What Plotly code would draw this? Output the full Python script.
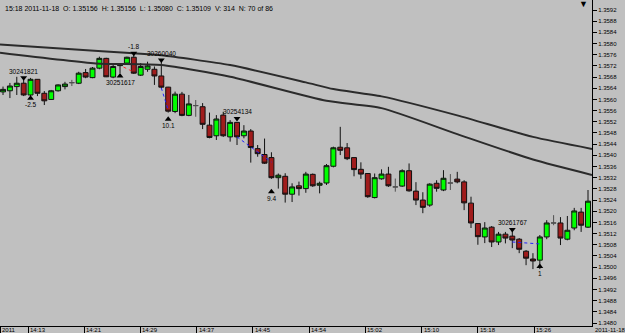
import plotly.graph_objects as go

# ---------------- data ----------------
bars = list(range(86))
opens = [1.35627, 1.35631, 1.35646, 1.35658, 1.35616, 1.35672, 1.35622, 1.35600, 1.35631, 1.35646,
         1.35660, 1.35658, 1.35696, 1.35678, 1.35712, 1.35747, 1.35680, 1.35721, 1.35730, 1.35751,
         1.35687, 1.35708, 1.35708, 1.35684, 1.35644, 1.35557, 1.35619, 1.35543, 1.35578, 1.35574,
         1.35508, 1.35470, 1.35544, 1.35466, 1.35518, 1.35470, 1.35487, 1.35424, 1.35403, 1.35392,
         1.35320, 1.35325, 1.35261, 1.35291, 1.35281, 1.35332, 1.35293, 1.35301, 1.35361, 1.35429,
         1.35427, 1.35392, 1.35350, 1.35335, 1.35249, 1.35316, 1.35333, 1.35287, 1.35290, 1.35345,
         1.35272, 1.35240, 1.35222, 1.35300, 1.35276, 1.35301, 1.35315, 1.35305, 1.35229, 1.35156,
         1.35108, 1.35143, 1.35090, 1.35118, 1.35111, 1.35100, 1.35057, 1.35029, 1.35025, 1.35108,
         1.35158, 1.35158, 1.35100, 1.35140, 1.35197, 1.35143]
highs = [1.35646, 1.35659, 1.35681, 1.35670, 1.35677, 1.35673, 1.35630, 1.35634, 1.35654, 1.35663,
         1.35670, 1.35699, 1.35709, 1.35716, 1.35753, 1.35749, 1.35730, 1.35730, 1.35753, 1.35766,
         1.35730, 1.35735, 1.35718, 1.35735, 1.35645, 1.35628, 1.35627, 1.35616, 1.35598, 1.35587,
         1.35553, 1.35544, 1.35556, 1.35526, 1.35519, 1.35508, 1.35494, 1.35437, 1.35460, 1.35411,
         1.35335, 1.35336, 1.35300, 1.35306, 1.35341, 1.35335, 1.35306, 1.35369, 1.35431, 1.35502,
         1.35444, 1.35393, 1.35375, 1.35336, 1.35335, 1.35350, 1.35359, 1.35317, 1.35350, 1.35371,
         1.35304, 1.35268, 1.35300, 1.35311, 1.35347, 1.35333, 1.35341, 1.35311, 1.35252, 1.35156,
         1.35161, 1.35147, 1.35126, 1.35126, 1.35140, 1.35104, 1.35061, 1.35050, 1.35115, 1.35168,
         1.35186, 1.35179, 1.35183, 1.35212, 1.35212, 1.35276]
lows = [1.35616, 1.35605, 1.35616, 1.35612, 1.35609, 1.35612, 1.35580, 1.35598, 1.35628, 1.35636,
        1.35648, 1.35655, 1.35676, 1.35676, 1.35708, 1.35680, 1.35676, 1.35694, 1.35727, 1.35691,
        1.35684, 1.35699, 1.35652, 1.35640, 1.35553, 1.35551, 1.35540, 1.35540, 1.35538, 1.35494,
        1.35461, 1.35455, 1.35466, 1.35449, 1.35437, 1.35461, 1.35374, 1.35395, 1.35369, 1.35316,
        1.35281, 1.35231, 1.35233, 1.35256, 1.35266, 1.35287, 1.35264, 1.35294, 1.35357, 1.35401,
        1.35383, 1.35325, 1.35316, 1.35248, 1.35246, 1.35313, 1.35287, 1.35270, 1.35287, 1.35270,
        1.35222, 1.35193, 1.35216, 1.35270, 1.35272, 1.35276, 1.35300, 1.35204, 1.35140, 1.35080,
        1.35086, 1.35072, 1.35079, 1.35085, 1.35068, 1.35050, 1.35007, 1.34993, 1.34993, 1.35100,
        1.35150, 1.35079, 1.35096, 1.35132, 1.35126, 1.35140]
closes = [1.35636, 1.35648, 1.35658, 1.35616, 1.35672, 1.35622, 1.35595, 1.35631, 1.35652, 1.35655,
          1.35660, 1.35694, 1.35680, 1.35712, 1.35747, 1.35681, 1.35718, 1.35724, 1.35751, 1.35694,
          1.35718, 1.35720, 1.35684, 1.35644, 1.35558, 1.35619, 1.35543, 1.35584, 1.35578, 1.35511,
          1.35464, 1.35530, 1.35470, 1.35518, 1.35466, 1.35487, 1.35428, 1.35406, 1.35372, 1.35320,
          1.35329, 1.35261, 1.35287, 1.35281, 1.35333, 1.35291, 1.35300, 1.35363, 1.35427, 1.35418,
          1.35388, 1.35349, 1.35333, 1.35252, 1.35320, 1.35333, 1.35291, 1.35287, 1.35345, 1.35273,
          1.35240, 1.35214, 1.35297, 1.35282, 1.35318, 1.35301, 1.35305, 1.35230, 1.35158, 1.35109,
          1.35140, 1.35090, 1.35118, 1.35104, 1.35097, 1.35064, 1.35032, 1.35022, 1.35108, 1.35158,
          1.35158, 1.35104, 1.35132, 1.35201, 1.35150, 1.35236]

# moving-average lines (read at bar positions)
ma_upper_x = [-0.44, 10, 19, 23, 33, 44, 48, 55, 66, 77, 85.58]
ma_upper_y = [1.35797, 1.35780, 1.35765, 1.35758, 1.35723, 1.35661, 1.35637, 1.35611, 1.35543, 1.35466, 1.35423]
ma_lower_x = [-0.44, 13.5, 23, 33, 47, 55, 66, 77, 85.58]
ma_lower_y = [1.35767, 1.35729, 1.35723, 1.35681, 1.35595, 1.35569, 1.35476, 1.35385, 1.35330]

# signal labels
sig_top_bar = [3, 19, 23, 34, 74]
sig_top_price = [1.35678, 1.35765, 1.35741, 1.35532, 1.35135]
sig_top_text = ["30241821", "-1.8", "30260040", "30254134", "30261767"]
sig_bot_bar = [4, 17, 24, 39, 78]
sig_bot_price = [1.35604, 1.35684, 1.35529, 1.35270, 1.35002]
sig_bot_text = ["-2.5", "30251617", "10.1", "9.4", "1"]

# zigzag dotted segments
zz_red_x = [17.5, 19]
zz_red_y = [1.35716, 1.35698]
zz_blue = [([23, 24], [1.35641, 1.35562]),
           ([34, 39], [1.35466, 1.35376]),
           ([74, 78], [1.35090, 1.35083])]

time_labels = ["14:13", "14:21", "14:29", "14:37", "14:45", "14:54", "15:02", "15:10", "15:18", "15:26"]
header = ("15:18 2011-11-18\u00a0\u00a0O: 1.35156\u00a0\u00a0H: 1.35156\u00a0\u00a0L: 1.35080"
          "\u00a0\u00a0C: 1.35109\u00a0\u00a0V: 314\u00a0\u00a0N: 70 of 86")

# ---------------- figure ----------------
FONT = "Liberation Sans, Arial, sans-serif"
BG = "#c0c0c0"
GREEN = "#00ff00"
RED = "#a01c1c"

inc = [i for i in bars if closes[i] > opens[i]]
dec = [i for i in bars if closes[i] < opens[i]]
doj = [i for i in bars if closes[i] == opens[i]]

fig = go.Figure()

def add_candles(idx, inc_fill, dec_fill, line_col):
    fig.add_trace(go.Candlestick(
        x=[bars[i] for i in idx], open=[opens[i] for i in idx], high=[highs[i] for i in idx],
        low=[lows[i] for i in idx], close=[closes[i] for i in idx],
        increasing=dict(line=dict(color=line_col, width=1), fillcolor=inc_fill),
        decreasing=dict(line=dict(color=line_col, width=1), fillcolor=dec_fill),
        whiskerwidth=0, showlegend=False, hoverinfo="skip"))

add_candles(inc, GREEN, GREEN, "#111111")
add_candles(dec, RED, RED, "#111111")
add_candles(doj, "#606060", "#606060", "#505050")

fig.add_trace(go.Scatter(x=ma_upper_x, y=ma_upper_y, mode="lines", line=dict(color="#2b2b2b", width=2, shape="spline", smoothing=0.6), hoverinfo="skip", showlegend=False))
fig.add_trace(go.Scatter(x=ma_lower_x, y=ma_lower_y, mode="lines", line=dict(color="#2b2b2b", width=2, shape="spline", smoothing=0.6), hoverinfo="skip", showlegend=False))

fig.add_trace(go.Scatter(x=zz_red_x, y=zz_red_y, mode="lines", line=dict(color="#ff3030", width=1, dash="dot"), hoverinfo="skip", showlegend=False))
for zx, zy in zz_blue:
    fig.add_trace(go.Scatter(x=zx, y=zy, mode="lines", line=dict(color="#2020ff", width=1, dash="dot"), hoverinfo="skip", showlegend=False))

fig.add_trace(go.Scatter(x=sig_top_bar, y=sig_top_price, mode="markers",
                         marker=dict(symbol="triangle-down", size=6, color="#000000"), hoverinfo="skip", showlegend=False))
fig.add_trace(go.Scatter(x=sig_bot_bar, y=sig_bot_price, mode="markers",
                         marker=dict(symbol="triangle-up", size=6, color="#000000"), hoverinfo="skip", showlegend=False))

ann = []
for b, p, t in zip(sig_top_bar, sig_top_price, sig_top_text):
    ann.append(dict(x=b, y=p, text=t, showarrow=False, yanchor="bottom", yshift=1,
                    font=dict(size=6.5, family=FONT, color="#000")))
for b, p, t in zip(sig_bot_bar, sig_bot_price, sig_bot_text):
    ann.append(dict(x=b, y=p, text=t, showarrow=False, yanchor="top", yshift=-1,
                    font=dict(size=6.5, family=FONT, color="#000")))

tick_first, tick_step = 3.63, 8.17
tick_pos = [tick_first + k * tick_step for k in range(len(time_labels))]
x0, x1 = -0.44, 85.58
for tp, lab in zip(tick_pos, time_labels):
    ann.append(dict(x=tp, xref="x", y=0, yref="paper", text=lab, showarrow=False,
                    xanchor="left", yanchor="top", xshift=0, yshift=1,
                    font=dict(size=6, family=FONT, color="#000")))
ann.append(dict(x=x0, xref="x", y=0, yref="paper", text="2011", showarrow=False,
                xanchor="left", yanchor="top", yshift=1, font=dict(size=6, family=FONT, color="#000")))
ann.append(dict(x=1, xref="paper", y=0, yref="paper", text="2011-11-18", showarrow=False,
                xanchor="left", yanchor="top", xshift=1, yshift=1, font=dict(size=6, family=FONT, color="#000")))
ann.append(dict(x=0, xref="paper", y=1, yref="paper", text=header, showarrow=False,
                xanchor="left", yanchor="top", xshift=3, yshift=-3, font=dict(size=7, family=FONT, color="#000")))
ann.append(dict(x=0.9848, xref="paper", y=1, yref="paper", text="\u25bc", showarrow=False,
                xanchor="center", yanchor="top", yshift=3, font=dict(size=9, family=FONT, color="#000")))

y_ticks = [round(1.3480 + 0.0004 * k, 4) for k in range(29)]

fig.update_layout(
    width=625, height=333,
    margin=dict(l=0, r=33, t=0, b=7, pad=0),
    paper_bgcolor=BG, plot_bgcolor=BG,
    showlegend=False,
    boxgap=0.1, boxgroupgap=0.2,
    annotations=ann,
    xaxis=dict(range=[x0, x1], showgrid=False, zeroline=False, showline=True, linecolor="#000", linewidth=1,
               ticks="outside", ticklen=7, tickcolor="#000", tickwidth=1, tickvals=[x0] + tick_pos,
               showticklabels=False, rangeslider=dict(visible=False), fixedrange=True),
    yaxis=dict(side="right", range=[1.347894, 1.359558], showgrid=False, zeroline=False, showline=True,
               linecolor="#000", linewidth=1, ticks="outside", ticklen=4, tickcolor="#000",
               tickvals=y_ticks, ticktext=[f"{v:.4f}" for v in y_ticks],
               tickfont=dict(size=6, family=FONT, color="#000"), fixedrange=True),
)

fig.write_html("out.html")
